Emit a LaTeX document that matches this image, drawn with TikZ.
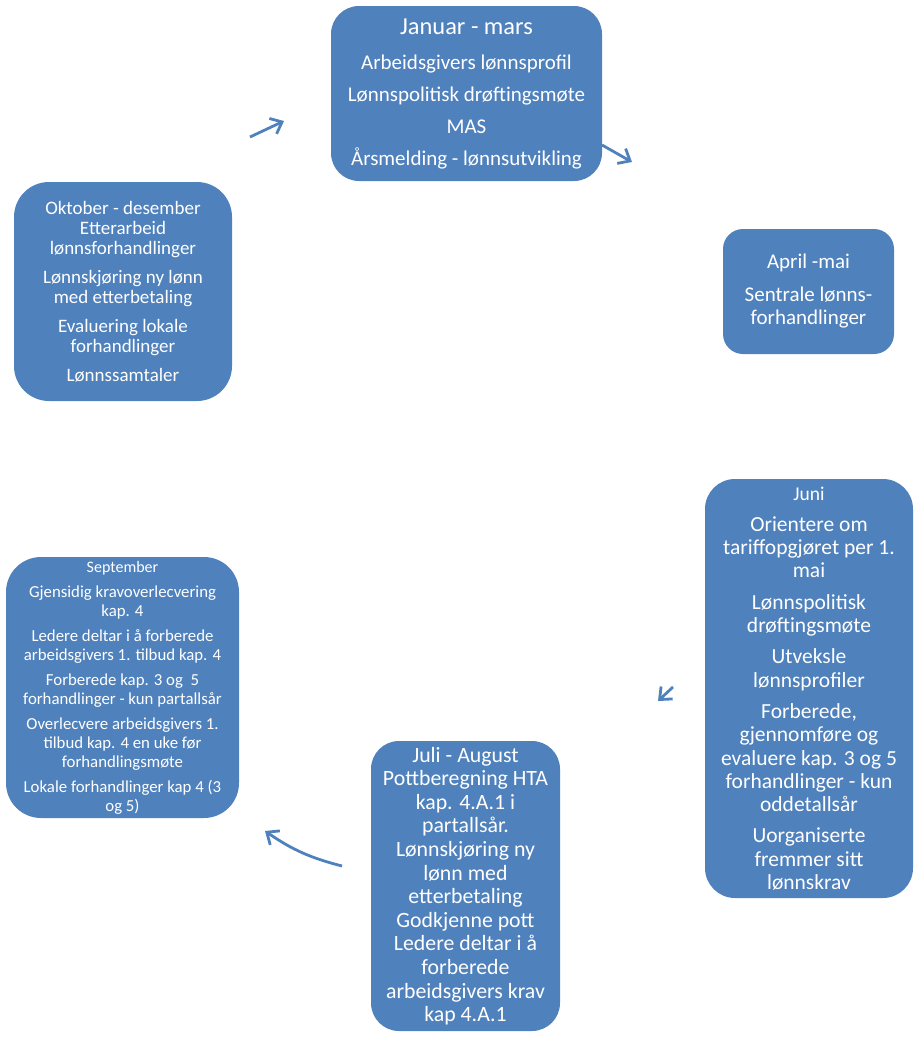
\documentclass[tikz,border=0pt]{standalone}
\usepackage{fontspec}
\setmainfont{Carlito}
\usetikzlibrary{arrows.meta}
\definecolor{BoxBlue}{HTML}{4F81BD}
\newcommand{\setsize}[2]{\fontsize{#1}{#2}\selectfont}

\begin{document}
\begin{tikzpicture}[x=1pt, y=-1pt,
		monthbox/.style={fill=BoxBlue, text=white, align=center, inner sep=0pt},
		cyclearrow/.style={BoxBlue, line width=2.8pt, -{Straight Barb[length=10pt, width=17pt]}}]
	\useasboundingbox (0,0) rectangle (919,1037);
	
	% the six periods of the year
	\node[monthbox, minimum width=271, minimum height=175, rounded corners=28, font=\setsize{21}{24}] (jan) at (466.5,93.5)
		{{\setsize{24.4}{28}Januar - mars}\\[11pt]
		 Arbeidsgivers lønnsprofil\\[8pt]
		 Lønnspolitisk drøftingsmøte\\[8pt]
		 MAS\\[8pt]
		 Årsmelding - lønnsutvikling};
	
	\node[monthbox, minimum width=171, minimum height=125, rounded corners=20, font=\setsize{21}{23}] (apr) at (808.5,291.5)
		{April -mai\\[10pt]
		 Sentrale lønns-\\
		 forhandlinger};
	
	\node[monthbox, minimum width=208, minimum height=419, rounded corners=30, font=\setsize{21.5}{23.3}] (jun) at (809,688.5)
		{{\setsize{19.5}{22}Juni}\\[8pt]
		 Orientere om\\
		 tariffopgjøret per 1.\\
		 mai\\[8pt]
		 Lønnspolitisk\\
		 drøftingsmøte\\[8pt]
		 Utveksle\\
		 lønnsprofiler\\[8pt]
		 Forberede,\\
		 gjennomføre og\\
		 evaluere kap. 3 og 5\\
		 forhandlinger - kun\\
		 oddetallsår\\[8pt]
		 Uorganiserte\\
		 fremmer sitt\\
		 lønnskrav};
	
	\node[monthbox, minimum width=189, minimum height=290, rounded corners=28, font=\setsize{21.8}{23.6}] (jul) at (465.5,886)
		{Juli - August\\
		 Pottberegning HTA\\
		 kap. 4.A.1 i\\
		 partallsår.\\
		 Lønnskjøring ny\\
		 lønn med\\
		 etterbetaling\\
		 Godkjenne pott\\
		 Ledere deltar i å\\
		 forberede\\
		 arbeidsgivers krav\\
		 kap 4.A.1};
	
	\node[monthbox, minimum width=233, minimum height=261, rounded corners=35, font=\setsize{16.8}{19}] (sep) at (122.5,687.5)
		{{\setsize{16}{18}September}\\[6pt]
		 Gjensidig kravoverlecvering\\
		 kap. 4\\[6pt]
		 Ledere deltar i å forberede\\
		 arbeidsgivers 1. tilbud kap. 4\\[6pt]
		 Forberede kap. 3 og \ 5\\
		 forhandlinger - kun partallsår\\[6pt]
		 Overlecvere arbeidsgivers 1.\\
		 tilbud kap. 4 en uke før\\
		 forhandlingsmøte\\[6pt]
		 Lokale forhandlinger kap 4 (3\\
		 og 5)};
	
	\node[monthbox, minimum width=218, minimum height=219, rounded corners=35, font=\setsize{19}{20}] (okt) at (123,291.5)
		{Oktober - desember\\
		 Etterarbeid\\
		 lønnsforhandlinger\\[9pt]
		 Lønnskjøring ny lønn\\
		 med etterbetaling\\[9pt]
		 Evaluering lokale\\
		 forhandlinger\\[9pt]
		 Lønnssamtaler};
	
	% arrows between the periods
	\coordinate (oktjanS) at (250,137);
	\coordinate (oktjanE) at (284,121);
	\coordinate (janaprS) at (602,145);
	\coordinate (janaprE) at (632,162);
	\coordinate (junjulS) at (673,687);
	\coordinate (junjulE) at (658,701);
	\coordinate (julsepS) at (342,866);
	\coordinate (julsepE) at (265,831);
	
	\draw[cyclearrow] (oktjanS) -- (oktjanE);
	\draw[cyclearrow] (janaprS) -- (janaprE);
	\draw[cyclearrow] (junjulS) -- (junjulE);
	\draw[cyclearrow] (julsepS) to[bend left=10] (julsepE);
\end{tikzpicture}
\end{document}
